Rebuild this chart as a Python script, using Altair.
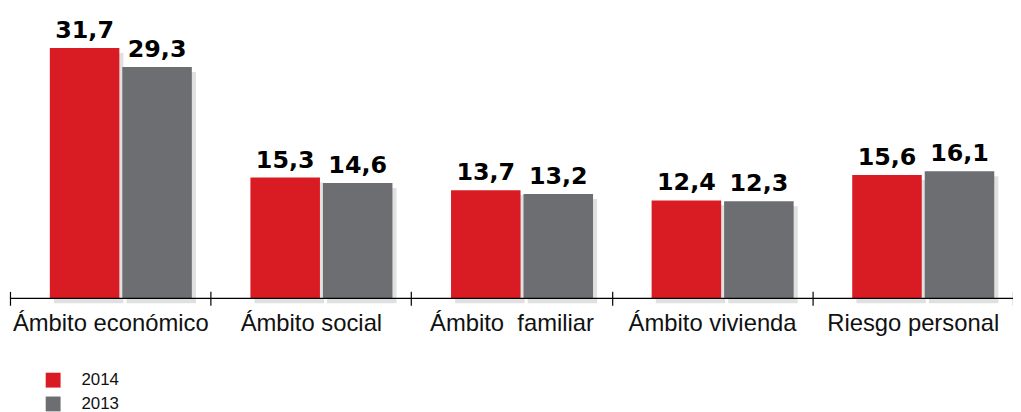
import altair as alt
import pandas as pd

categories = ["Ámbito económico", "Ámbito social", "Ámbito\u00a0 familiar", "Ámbito vivienda", "Riesgo personal"]
years = ["2014", "2013"]
values_2014 = [31.7, 15.3, 13.7, 12.4, 15.6]
values_2013 = [29.3, 14.6, 13.2, 12.3, 16.1]
colors = ["#D91C24", "#6D6E72"]

rows = []
for c, a, b in zip(categories, values_2014, values_2013):
    rows.append({"cat": c, "year": "2014", "value": a})
    rows.append({"cat": c, "year": "2013", "value": b})
df = pd.DataFrame(rows)
df["label"] = df["value"].map(lambda v: f"{v:.1f}".replace(".", ","))

W, H = 1011, 269

x = alt.X(
    "cat:N", sort=categories, title=None,
    scale=alt.Scale(paddingInner=0, paddingOuter=0),
    axis=alt.Axis(domain=False, tickBand="extent", tickSize=14, offset=-7,
                  tickColor="black", tickWidth=1.2, labelFont="Liberation Sans",
                  labelFontSize=24, labelColor="#111111", labelPadding=6,
                  labelAngle=0, labelLimit=0),
)
xo = alt.XOffset("year:N", sort=years,
                 scale=alt.Scale(paddingInner=0.041, paddingOuter=0.404, align=0.68))
xo_shadow = alt.XOffset("year:N", sort=years,
                        scale=alt.Scale(paddingInner=0.041, paddingOuter=0.404, align=0.75))
y = alt.Y("value:Q", scale=alt.Scale(domain=[0, 33.8], nice=False), axis=None)

base = alt.Chart(df)

shadow = base.mark_bar(color="#000000", opacity=0.12, yOffset=5).encode(
    x=x, xOffset=xo_shadow, y=y
)

bars = base.mark_bar().encode(
    x=x, xOffset=xo, y=y,
    color=alt.Color(
        "year:N", sort=years, scale=alt.Scale(domain=years, range=colors),
        legend=alt.Legend(title=None, orient="none", legendX=35, legendY=343,
                          symbolType="square", symbolSize=225, symbolStrokeWidth=0,
                          symbolOpacity=1, labelFontSize=17, labelFont="Liberation Sans",
                          labelColor="#111111", labelOffset=20, rowPadding=6,
                          direction="vertical"),
    ),
)

labels = base.mark_text(dy=-10, baseline="alphabetic", font="DejaVu Sans",
                        fontWeight="bold", fontSize=24, color="black").encode(
    x=x, xOffset=xo, y=y, text="label:N"
)

rule = alt.Chart(pd.DataFrame({"v": [0]})).mark_rule(color="black", strokeWidth=1.3).encode(
    y=alt.Y("v:Q"), x=alt.value(0), x2=alt.value(W)
)

front = alt.layer(bars, labels)

chart = alt.layer(shadow, front, rule).resolve_scale(
    xOffset="independent"
).properties(
    width=W, height=H,
    padding={"left": 2, "top": 22, "right": 0, "bottom": 113},
    autosize="none", background="white",
).configure_view(stroke=None, strokeWidth=0)

chart.save("out.html", embed_options={"renderer": "svg", "actions": False})
